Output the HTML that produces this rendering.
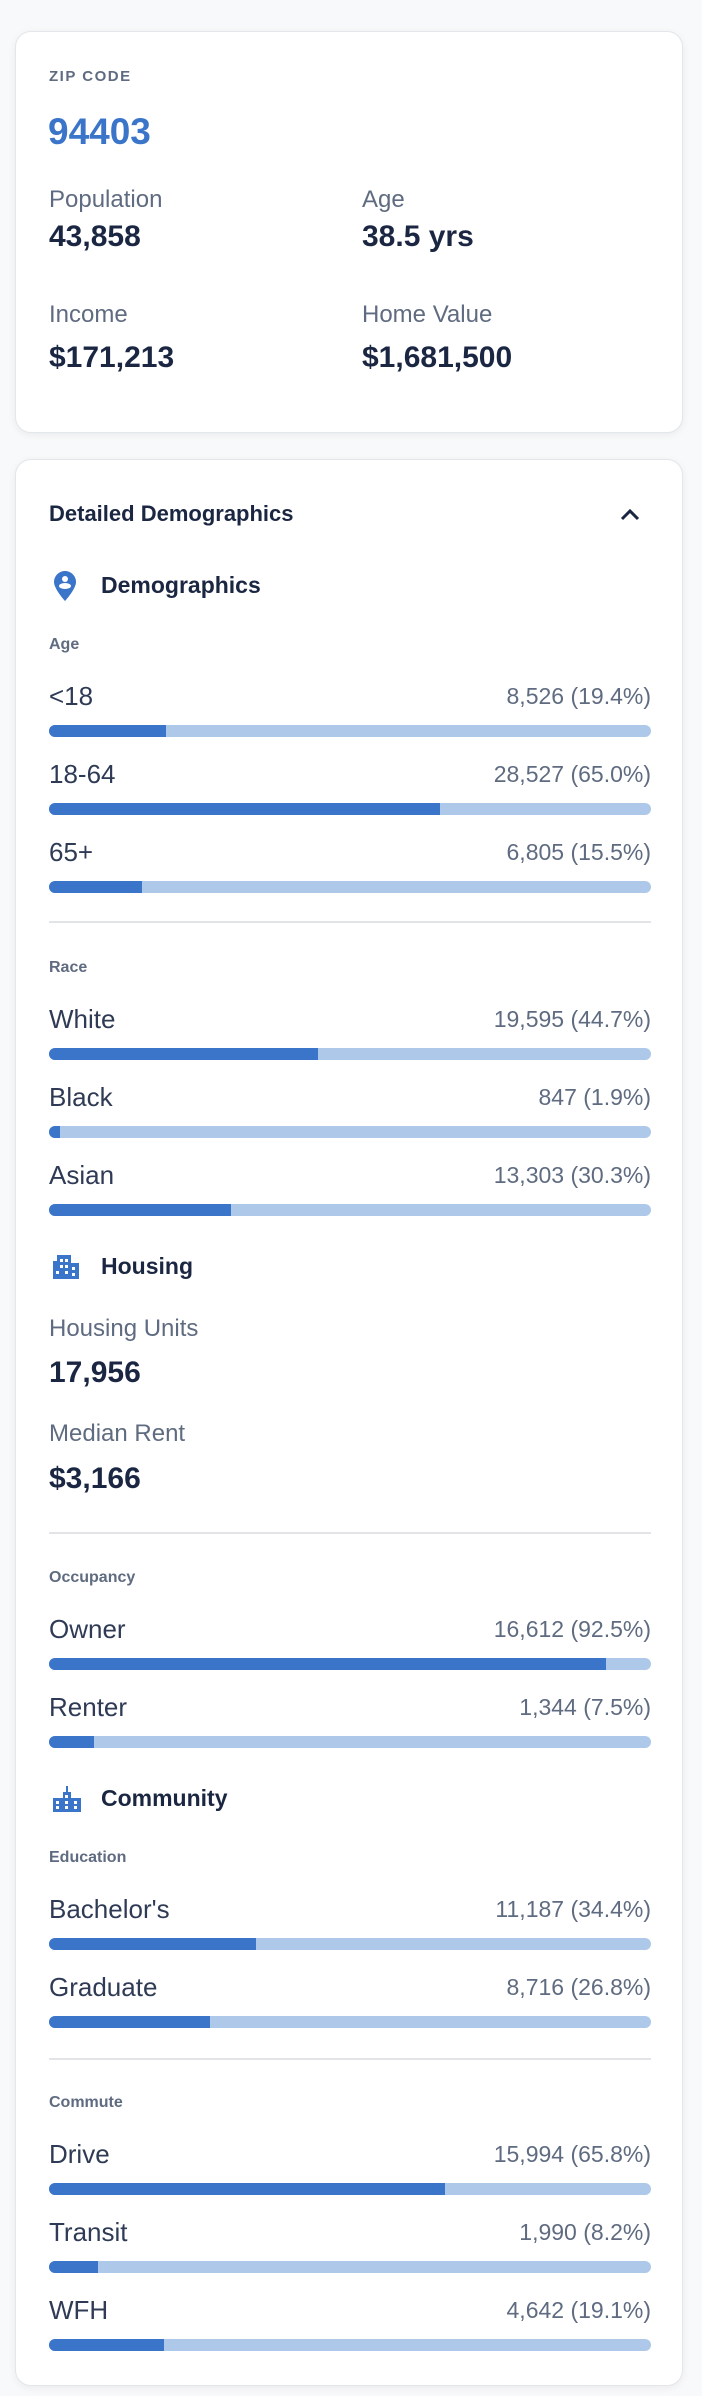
<!DOCTYPE html>
<html><head><meta charset="utf-8"><style>
body{margin:0;width:702px;height:2396px;background:#f8f9fa;font-family:"Liberation Sans",sans-serif;position:relative;overflow:hidden}
.card{position:absolute;left:15px;width:666px;background:#fff;border:1px solid #e3e6ea;border-radius:16px;box-shadow:0 2px 8px rgba(0,0,0,0.06)}
.t{position:absolute;white-space:nowrap;line-height:1}
.lbl{color:#5f6b80;font-size:24px}
.big{color:#1b2742;font-size:30px;font-weight:bold}
.sm{color:#5f6b80;font-size:16px;font-weight:bold}
.hd{color:#1b2742;font-size:23px;font-weight:bold}
.rl{color:#2f3b55;font-size:26px;left:49px}
.rv{color:#5f6b80;font-size:23px;right:51px}
.bar{position:absolute;left:49px;width:602px;height:12px;border-radius:6px;background:#aec8ea;overflow:hidden}
.fill{position:absolute;left:0;top:0;height:12px;background:#3a75c9}
.div{position:absolute;left:49px;width:602px;height:2px;background:#e2e4e8}
</style></head><body>
<div class="card" style="top:31px;height:400px"></div>
<div class="t" style="left:49px;top:69px;font-size:15px;font-weight:bold;letter-spacing:1.5px;color:#5f6b80">ZIP CODE</div>
<div class="t" style="left:48px;top:113px;font-size:37px;font-weight:bold;color:#3a75c9">94403</div>
<div class="t lbl" style="left:49px;top:188px">Population</div>
<div class="t big" style="left:49px;top:222px">43,858</div>
<div class="t lbl" style="left:362px;top:188px">Age</div>
<div class="t big" style="left:362px;top:222px">38.5 yrs</div>
<div class="t lbl" style="left:49px;top:303px">Income</div>
<div class="t big" style="left:49px;top:343px">$171,213</div>
<div class="t lbl" style="left:362px;top:303px">Home Value</div>
<div class="t big" style="left:362px;top:343px">$1,681,500</div>

<div class="card" style="top:459px;height:1925px"></div>
<div class="t hd" style="left:49px;top:503px;font-size:22px">Detailed Demographics</div>
<svg style="position:absolute;left:618px;top:505px" width="24" height="18"><polyline points="4,14 12,6 20,14" fill="none" stroke="#1b2742" stroke-width="3"/></svg>

<svg style="position:absolute;left:54px;top:571px" width="22" height="30" viewBox="0 0 22 30"><path d="M11 0C5 0 0 5 0 11c0 7 11 19 11 19s11-12 11-19C22 5 17 0 11 0z" fill="#3a75c9"/><circle cx="11" cy="8" r="3" fill="#fff"/><ellipse cx="11" cy="15" rx="6" ry="3" fill="#fff"/></svg>
<div class="t hd" style="left:101px;top:574px">Demographics</div>

<svg style="position:absolute;left:53px;top:1253px" width="28" height="28" viewBox="0 0 28 28"><path d="M4 2h14v8h8v16H0V8h4z" fill="#3a75c9"/><g fill="#fff"><rect x="7" y="6" width="3" height="3"/><rect x="12" y="6" width="3" height="3"/><rect x="7" y="12" width="3" height="3"/><rect x="12" y="12" width="3" height="3"/><rect x="19" y="14" width="3" height="3"/><rect x="3" y="18" width="3" height="3"/><rect x="12" y="18" width="3" height="3"/><rect x="19" y="20" width="3" height="3"/></g></svg>
<div class="t hd" style="left:101px;top:1255px">Housing</div>
<div class="t lbl" style="left:49px;top:1317px">Housing Units</div>
<div class="t big" style="left:49px;top:1358px">17,956</div>
<div class="t lbl" style="left:49px;top:1422px">Median Rent</div>
<div class="t big" style="left:49px;top:1464px">$3,166</div>

<svg style="position:absolute;left:53px;top:1784px" width="28" height="28" viewBox="0 0 28 28"><path d="M10 8h3V2h2v6h3v6h10v14H0V14h10z" fill="#3a75c9"/><g fill="#fff"><rect x="12" y="11" width="3" height="3"/><rect x="3" y="17" width="3" height="3"/><rect x="12" y="17" width="3" height="3"/><rect x="21" y="17" width="3" height="3"/><rect x="3" y="22" width="3" height="3"/><rect x="12" y="22" width="3" height="3"/><rect x="21" y="22" width="3" height="3"/></g></svg>
<div class="t hd" style="left:101px;top:1787px">Community</div>

<div id="rows"></div>
<script>
const groupNames = ["Age","Race","Occupancy","Education","Commute"];
const groupTops = [644,967,1577,1857,2102];
const dividerTops = [922,1533,2059];
const rowLabels = [["<18","18-64","65+"],["White","Black","Asian"],["Owner","Renter"],["Bachelor's","Graduate"],["Drive","Transit","WFH"]];
const rowCounts = [["8,526","28,527","6,805"],["19,595","847","13,303"],["16,612","1,344"],["11,187","8,716"],["15,994","1,990","4,642"]];
const rowPercents = [[19.4,65.0,15.5],[44.7,1.9,30.3],[92.5,7.5],[34.4,26.8],[65.8,8.2,19.1]];
const root = document.getElementById('rows');
dividerTops.forEach((y,i)=>{
  const d=document.createElement('div');d.className='div';d.style.top=(y-1)+'px';
  
  
  root.appendChild(d);
});
groupNames.forEach((g,gi)=>{
  const h=document.createElement('div');h.className='t sm';h.textContent=g;
  h.style.left='49px';h.style.top=(groupTops[gi]-7)+'px';
  
  
  root.appendChild(h);
  rowLabels[gi].forEach((lab,ri)=>{
    const yText=groupTops[gi]+52+ri*78;
    const yBar=yText+35;
    const slug=lab.toLowerCase().replace(/[^a-z0-9]+/g,'-');
    const l=document.createElement('div');l.className='t rl';l.textContent=lab;l.style.top=(yText-13)+'px';
    
    
    root.appendChild(l);
    const v=document.createElement('div');v.className='t rv';
    v.textContent=rowCounts[gi][ri]+' ('+rowPercents[gi][ri].toFixed(1)+'%)';v.style.top=(yText-11)+'px';
    
    
    root.appendChild(v);
    const b=document.createElement('div');b.className='bar';b.style.top=(yBar-6)+'px';
    
    
    const f=document.createElement('div');f.className='fill';f.style.width=(602*rowPercents[gi][ri]/100)+'px';
    
    
    b.appendChild(f);root.appendChild(b);
  });
});
</script>
</body></html>
